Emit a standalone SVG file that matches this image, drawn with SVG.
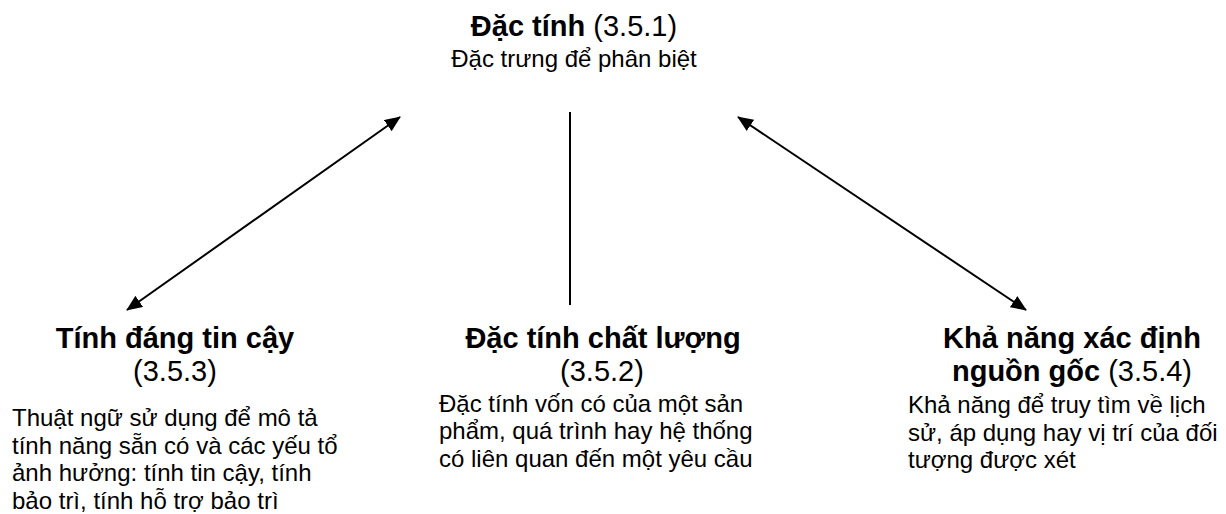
<svg xmlns="http://www.w3.org/2000/svg" width="1226" height="514" viewBox="0 0 1226 514">
<defs>
<style>
text{font-family:"Liberation Sans",Arial,"Noto Sans",sans-serif;fill:#000}
.t{font-size:29px}
.b{font-weight:bold}
.d{font-size:24px}
.c{text-anchor:middle}
.ln{stroke:#000;stroke-width:2;fill:none}
</style>
<marker id="ah" viewBox="0 0 16 13.5" markerWidth="16" markerHeight="13.5" refX="15" refY="6.75" orient="auto-start-reverse" markerUnits="userSpaceOnUse">
<path d="M0,0 L16,6.75 L0,13.5 z" fill="#000"/>
</marker>
</defs>
<rect width="1226" height="514" fill="#fff"/>
<g id="connectors">
<line class="ln" x1="127" y1="310" x2="400" y2="117" marker-start="url(#ah)" marker-end="url(#ah)"/>
<line class="ln" x1="1026" y1="310" x2="738" y2="117" marker-start="url(#ah)" marker-end="url(#ah)"/>
<line class="ln" x1="570" y1="112" x2="570" y2="305"/>
</g>
<g id="node-351">
<text class="t c" x="574" y="36"><tspan class="b">Đặc tính</tspan> (3.5.1)</text>
<text class="d c" x="574" y="67">Đặc trưng để phân biệt</text>
</g>
<g id="node-353">
<text class="t c b" x="175" y="348">Tính đáng tin cậy</text>
<text class="t c" x="175" y="381">(3.5.3)</text>
<text class="d" x="12" y="426">Thuật ngữ sử dụng để mô tả</text>
<text class="d" x="12" y="453.7">tính năng sẵn có và các yếu tổ</text>
<text class="d" x="12" y="481.4">ảnh hưởng: tính tin cậy, tính</text>
<text class="d" x="12" y="509">bảo trì, tính hỗ trợ bảo trì</text>
</g>
<g id="node-352">
<text class="t c b" x="603" y="348">Đặc tính chất lượng</text>
<text class="t c" x="602" y="381">(3.5.2)</text>
<text class="d" x="439" y="411.5">Đặc tính vốn có của một sản</text>
<text class="d" x="439" y="439">phẩm, quá trình hay hệ thống</text>
<text class="d" x="439" y="466.5">có liên quan đến một yêu cầu</text>
</g>
<g id="node-354">
<text class="t c b" x="1072" y="348">Khả năng xác định</text>
<text class="t c" x="1072" y="381"><tspan class="b">nguồn gốc</tspan> (3.5.4)</text>
<text class="d" x="908" y="413">Khả năng để truy tìm về lịch</text>
<text class="d" x="908" y="440.5">sử, áp dụng hay vị trí của đối</text>
<text class="d" x="908" y="468">tượng được xét</text>
</g>
</svg>
